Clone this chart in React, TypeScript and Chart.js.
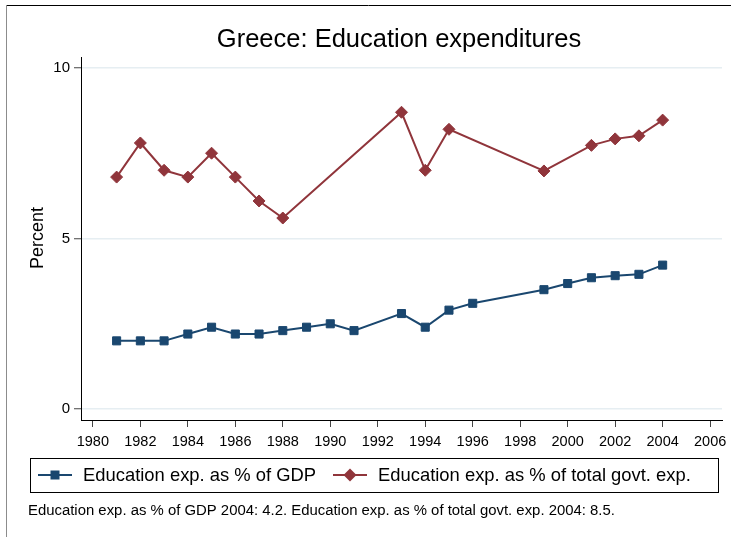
import React, { useEffect, useRef } from "react";
import { Chart, registerables } from "chart.js";

Chart.register(...registerables);

const chartTitle = "Greece: Education expenditures";
const yAxisTitle = "Percent";
const noteText =
  "Education exp. as % of GDP 2004: 4.2. Education exp. as % of total govt. exp. 2004: 8.5.";

const years = [
  1981, 1982, 1983, 1984, 1985, 1986, 1987, 1988, 1989, 1990, 1991, 1992,
  1993, 1994, 1995, 1996, 1997, 1998, 1999, 2000, 2001, 2002, 2003, 2004,
];
const gdpShare = [
  2.0, 2.0, 2.0, 2.2, 2.4, 2.2, 2.2, 2.3, 2.4, 2.5, 2.3, null,
  2.8, 2.4, 2.9, 3.1, null, null, 3.5, 3.68, 3.85, 3.91, 3.95, 4.22,
];
const govtShare = [
  6.8, 7.8, 7.0, 6.8, 7.5, 6.8, 6.1, 5.6, null, null, null, null,
  8.7, 7.0, 8.2, null, null, null, 6.98, null, 7.73, 7.92, 8.01, 8.47,
];
const seriesLabels = [
  "Education exp. as % of GDP",
  "Education exp. as % of total govt. exp.",
];
const xTickValues = [
  1980, 1982, 1984, 1986, 1988, 1990, 1992, 1994, 1996, 1998, 2000, 2002, 2004, 2006,
];
const yTickValues = [0, 5, 10];

const NAVY = "#1a476f";
const MAROON = "#90353b";
const FONT = "'Liberation Sans', Arial, Helvetica, sans-serif";

function toPoints(vals: (number | null)[]) {
  return years
    .map((yr, i) => ({ x: yr, y: vals[i] }))
    .filter((p) => p.y !== null) as { x: number; y: number }[];
}

const decorPlugin = {
  id: "decor",
  afterDraw(chart: any) {
    const ctx = chart.ctx as CanvasRenderingContext2D;
    ctx.save();
    // outer frame
    ctx.strokeStyle = "#000";
    ctx.lineWidth = 1;
    ctx.beginPath();
    ctx.moveTo(6, 5.5);
    ctx.lineTo(731, 5.5);
    ctx.stroke();
    ctx.strokeStyle = "#8c8c8c";
    ctx.beginPath();
    ctx.moveTo(6.5, 5);
    ctx.lineTo(6.5, 537);
    ctx.stroke();

    // title
    ctx.fillStyle = "#000";
    ctx.font = `25.5px ${FONT}`;
    ctx.textAlign = "center";
    ctx.textBaseline = "alphabetic";
    ctx.fillText(chartTitle, 399, 47);

    // y axis title
    ctx.save();
    ctx.translate(43, 238);
    ctx.rotate(-Math.PI / 2);
    ctx.font = `18px ${FONT}`;
    ctx.textAlign = "center";
    ctx.textBaseline = "alphabetic";
    ctx.fillText(yAxisTitle, 0, 0);
    ctx.restore();

    // legend box
    ctx.strokeStyle = "#000";
    ctx.lineWidth = 1;
    ctx.strokeRect(30.5, 458.5, 688, 34);
    const cy = 475;
    const items = [
      { x: 38, color: NAVY, style: "rect" },
      { x: 333, color: MAROON, style: "diamond" },
    ];
    ctx.font = `18.4px ${FONT}`;
    ctx.textAlign = "left";
    ctx.textBaseline = "middle";
    items.forEach((it, i) => {
      ctx.strokeStyle = it.color;
      ctx.fillStyle = it.color;
      ctx.lineWidth = 2;
      ctx.beginPath();
      ctx.moveTo(it.x, cy);
      ctx.lineTo(it.x + 34, cy);
      ctx.stroke();
      const mx = it.x + 17;
      ctx.beginPath();
      if (it.style === "rect") {
        ctx.rect(mx - 4.5, cy - 4.5, 9, 9);
      } else {
        ctx.moveTo(mx - 6.5, cy);
        ctx.lineTo(mx, cy - 6.5);
        ctx.lineTo(mx + 6.5, cy);
        ctx.lineTo(mx, cy + 6.5);
        ctx.closePath();
      }
      ctx.fill();
      ctx.fillStyle = "#000";
      ctx.fillText(chart.data.datasets[i].label, it.x + 45, cy + 1);
    });

    // note
    ctx.font = `14.9px ${FONT}`;
    ctx.fillStyle = "#000";
    ctx.textBaseline = "alphabetic";
    ctx.fillText(noteText, 28, 515);
    ctx.restore();
  },
};

export default function App() {
  const ref = useRef<HTMLCanvasElement>(null);
  useEffect(() => {
    if (!ref.current) return;
    const chart = new Chart(ref.current, {
      type: "line",
      data: {
        datasets: [
          {
            label: seriesLabels[0],
            data: toPoints(gdpShare),
            borderColor: NAVY,
            backgroundColor: NAVY,
            borderWidth: 2,
            pointStyle: "rect",
            pointRadius: 5.7,
            pointBorderWidth: 1,
            pointBackgroundColor: NAVY,
            pointBorderColor: NAVY,
            tension: 0,
          },
          {
            label: seriesLabels[1],
            data: toPoints(govtShare),
            borderColor: MAROON,
            backgroundColor: MAROON,
            borderWidth: 2,
            pointStyle: "rectRot",
            pointRadius: 6,
            pointBorderWidth: 1,
            pointBackgroundColor: MAROON,
            pointBorderColor: MAROON,
            tension: 0,
          },
        ],
      },
      options: {
        animation: false,
        responsive: false,
        layout: { padding: { left: 0, right: 9, top: 57, bottom: 72 } },
        plugins: {
          legend: { display: false },
          title: { display: false },
          tooltip: { enabled: false },
        },
        scales: {
          x: {
            type: "linear",
            min: 1979.5,
            max: 2006.5,
            afterBuildTicks: (axis: any) => {
              axis.ticks = xTickValues.map((v) => ({ value: v }));
            },
            afterFit: (s: any) => {
              s.height = 45;
              s.paddingLeft = 0;
              s.paddingRight = 0;
            },
            ticks: {
              font: { size: 14.5, family: FONT },
              color: "#000",
              padding: 6,
              maxRotation: 0,
              autoSkip: false,
              callback: (v: any) => String(v),
            },
            grid: {
              drawOnChartArea: false,
              tickLength: 7,
              tickColor: "#444",
              tickWidth: 1,
            },
            border: { display: true, color: "#000", width: 1 },
          },
          y: {
            type: "linear",
            min: -0.32,
            max: 10.32,
            afterBuildTicks: (axis: any) => {
              axis.ticks = yTickValues.map((v) => ({ value: v }));
            },
            afterFit: (s: any) => {
              s.width = 81;
            },
            ticks: {
              font: { size: 15, family: FONT },
              color: "#000",
              padding: 4,
              callback: (v: any) => String(v),
            },
            grid: {
              color: "#e6eef2",
              lineWidth: 1.5,
              tickLength: 7,
              tickColor: "#444",
              tickWidth: 1,
            },
            border: { display: true, color: "#000", width: 1 },
          },
        },
      },
      plugins: [decorPlugin],
    });
    return () => chart.destroy();
  }, []);
  return (
    <div style={{ position: "fixed", left: 0, top: 0, width: 731, height: 537, background: "#fff" }}>
      <canvas ref={ref} width={731} height={537} style={{ display: "block" }} />
    </div>
  );
}
